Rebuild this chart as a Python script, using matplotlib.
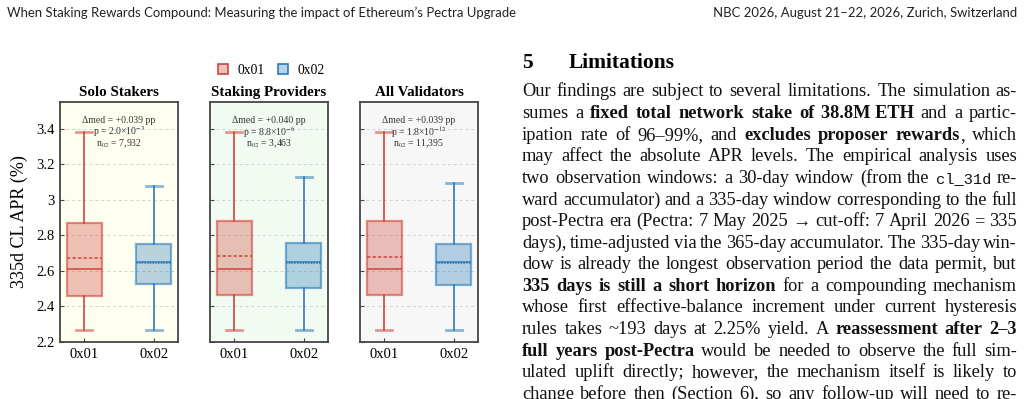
import re
import matplotlib
matplotlib.use("Agg")
import matplotlib.pyplot as plt
from matplotlib.patches import Patch
from matplotlib.ticker import FuncFormatter

W, H = 1025, 399
SERIF = ["Liberation Serif", "DejaVu Serif"]
SANS = ["Lato", "DejaVu Sans"]
MONO = ["Liberation Mono", "DejaVu Sans Mono"]
plt.rcParams["font.family"] = SERIF
plt.rcParams["mathtext.fontset"] = "stix"

# ---- chart data ----
groups = ["Solo Stakers", "Staking Providers", "All Validators"]
credentials = ["0x01", "0x02"]
panel_bg = ["#fffff0", "#f1fbf1", "#f7f7f7"]

# per group: [0x01, 0x02]
whis_lo = [[2.268, 2.268], [2.268, 2.268], [2.268, 2.268]]
q1 = [[2.458, 2.526], [2.462, 2.505], [2.462, 2.520]]
med = [[2.614, 2.650], [2.614, 2.650], [2.614, 2.650]]
mean = [[2.673, 2.646], [2.683, 2.646], [2.680, 2.646]]
q3 = [[2.868, 2.750], [2.882, 2.756], [2.881, 2.752]]
whis_hi = [[3.382, 3.080], [3.382, 3.128], [3.382, 3.097]]

delta_med = ["+0.039", "+0.040", "+0.039"]
p_mant = ["2.0", "8.8", "1.8"]
p_exp = [-3, -6, -12]
n_02 = ["7,932", "3,463", "11,395"]

yticks = [2.2, 2.4, 2.6, 2.8, 3.0, 3.2, 3.4]

# ---- page text ----
header_left = "When Staking Rewards Compound: Measuring the impact of Ethereum\u2019s Pectra Upgrade"
header_right = "NBC 2026, August 21\u201322, 2026, Zurich, Switzerland"
section_num = "5"
section_title = "Limitations"
body = [
    "Our findings are subject to several limitations. The simulation as-",
    "sumes a **fixed total network stake of 38.8M\u00a0ETH** and a partic-",
    "ipation rate of 96\u201399%, and **excludes proposer rewards**, which",
    "may affect the absolute APR levels. The empirical analysis uses",
    "two observation windows: a 30-day window (from the `cl_31d` re-",
    "ward accumulator) and a 335-day window corresponding to the full",
    "post-Pectra era (Pectra: 7 May 2025 \u2192 cut-off: 7 April 2026 = 335",
    "days), time-adjusted via the 365-day accumulator. The 335-day win-",
    "dow is already the longest observation period the data permit, but",
    "**335 days is still a short horizon** for a compounding mechanism",
    "whose first effective-balance increment under current hysteresis",
    "rules takes ~193 days at 2.25% yield. A **reassessment after 2\u20133**",
    "**full years post-Pectra** would be needed to observe the full sim-",
    "ulated uplift directly; however, the mechanism itself is likely to",
    "change before then (Section 6), so any follow-up will need to re-",
]

RED = "#d0453a"
BLUE = "#2b7bba"
colors = [RED, BLUE]


def px_axes(left, top, right, bottom):
    return [left / W, 1 - bottom / H, (right - left) / W, (bottom - top) / H]


def rgba(c, a):
    return (*matplotlib.colors.to_rgb(c), a)


fig = plt.figure(figsize=(W / 100, H / 100), dpi=100)

lefts = [60, 210, 360]
axes = []
for g, name in enumerate(groups):
    ax = fig.add_axes(px_axes(lefts[g], 102, lefts[g] + 118, 342))
    axes.append(ax)
    ax.set_facecolor(panel_bg[g])
    stats = []
    for k, cred in enumerate(credentials):
        stats.append(dict(med=med[g][k], q1=q1[g][k], q3=q3[g][k],
                          whislo=whis_lo[g][k], whishi=whis_hi[g][k],
                          mean=mean[g][k], fliers=[], label=cred))
    bp = ax.bxp(stats, positions=[0, 1], widths=0.5, patch_artist=True,
                showmeans=True, meanline=True, showfliers=False,
                capwidths=0.24, zorder=3)
    for k, c in enumerate(colors):
        box = bp["boxes"][k]
        box.set_facecolor(rgba(c, 0.33))
        box.set_edgecolor(rgba(c, 0.6))
        box.set_linewidth(1.6)
        bp["medians"][k].set(color=c, linewidth=1.1)
        bp["means"][k].set(color=c, linewidth=1.1,
                           linestyle=(0, (2.2, 1.4)) if k == 0 else (0, (1, 0.8)))
        for w in bp["whiskers"][2 * k:2 * k + 2]:
            w.set(color=c, linewidth=1.2)
        for cp in bp["caps"][2 * k:2 * k + 2]:
            cp.set(color=c, linewidth=2.0, alpha=0.55)

    ax.set_xlim(-0.343, 1.343)
    ax.set_ylim(2.2, 3.552)
    ax.set_yticks(yticks)
    ax.yaxis.set_major_formatter(FuncFormatter(lambda v, _: f"{v:g}"))
    ax.grid(axis="y", color="#d2d2d2", linestyle=(0, (3, 3)), linewidth=0.7, zorder=0)
    ax.set_axisbelow(True)
    for s in ax.spines.values():
        s.set_color("#454545")
        s.set_linewidth(1.3)
    ax.tick_params(direction="in", length=3, width=0.8, color="#454545",
                   labelsize=10.5, pad=4)
    ax.set_xticks([0, 1], credentials)
    if g > 0:
        ax.tick_params(axis="y", labelleft=False)
    ax.set_title(name, fontsize=10.8, fontweight="bold", pad=4)

    ax.text(0.5, 0.921, f"\u0394med = {delta_med[g]} pp", transform=ax.transAxes,
            ha="center", va="center", fontsize=7, color="#333333")
    ax.text(0.5, 0.875, f"p = {p_mant[g]}\u00d710$^{{{p_exp[g]}}}$", transform=ax.transAxes,
            ha="center", va="center", fontsize=7, color="#333333")
    ax.text(0.5, 0.825, f"n$_{{02}}$ = {n_02[g]}", transform=ax.transAxes,
            ha="center", va="center", fontsize=7, color="#333333")

fig.text(19 / W, 1 - 222 / H, "335d CL APR (%)", fontsize=13, rotation=90,
         ha="center", va="center")

handles = [Patch(facecolor=rgba(c, 0.33), edgecolor=c, linewidth=1.2) for c in colors]
fig.legend(handles, credentials, loc="center", bbox_to_anchor=(271.5 / W, 1 - 70 / H),
           ncol=2, frameon=False, fontsize=9.8, handlelength=0.75, handleheight=0.75,
           handletextpad=0.7, columnspacing=0.95, borderaxespad=0, borderpad=0)

# ---- page header and text column ----
renderer = fig.canvas.get_renderer()


def fy(y):
    return 1 - y / H


def text_width(t):
    return t.get_window_extent(renderer).width


# header, scaled to span the measured width
t = fig.text(7 / W, fy(17), header_left, family=SANS, fontsize=9, color="#222222")
t.set_fontsize(9 * 512 / text_width(t))
fig.text(1017 / W, fy(17), header_right, family=SANS, fontsize=t.get_fontsize(),
         color="#222222", ha="right")

fig.text(522 / W, fy(68), section_num, fontsize=15.5, fontweight="bold")
fig.text(569 / W, fy(68), section_title, fontsize=15.5, fontweight="bold")

BODY_SIZE = 13.2
styles = {
    "normal": dict(family=SERIF, fontweight="normal"),
    "bold": dict(family=SERIF, fontweight="bold"),
    "mono": dict(family=MONO, fontweight="normal"),
}
size_scale = {"normal": 1.0, "bold": 1.0, "mono": 0.84}


def parse(line):
    words = [[]]
    for f in re.split(r"(\*\*.*?\*\*|`.*?`)", line):
        if not f:
            continue
        if f.startswith("**"):
            style, s = "bold", f[2:-2]
        elif f.startswith("`"):
            style, s = "mono", f[1:-1]
        else:
            style, s = "normal", f
        for i, part in enumerate(s.split(" ")):
            if i > 0:
                words.append([])
            if part:
                words[-1].append((part.replace("\u00a0", " "), style))
    return [w for w in words if w]


x0, x1 = 522, 1017
base0, lead = 96.5, 21.6
for i, line in enumerate(body):
    yb = base0 + i * lead
    words = parse(line)
    size = BODY_SIZE
    texts = []
    for word in words:
        texts.append([fig.text(0, fy(yb), s, color="#111111", va="baseline",
                               fontsize=size * size_scale[st], **styles[st])
                      for s, st in word])
    # shrink the line if the words do not fit with a sensible gap
    for _ in range(5):
        widths = [[text_width(tt) for tt in ws] for ws in texts]
        total = sum(sum(w) for w in widths)
        gap = (x1 - x0 - total) / max(len(texts) - 1, 1)
        if gap >= 3.2:
            break
        size *= (x1 - x0 - 3.2 * (len(texts) - 1)) / total
        for ws, word in zip(texts, words):
            for tt, (s, st) in zip(ws, word):
                tt.set_fontsize(size * size_scale[st])
    x = x0
    for ws, wd in zip(texts, widths):
        for tt, w in zip(ws, wd):
            tt.set_x(x / W)
            x += w
        x += gap

fig.savefig("out.png", dpi=100)
